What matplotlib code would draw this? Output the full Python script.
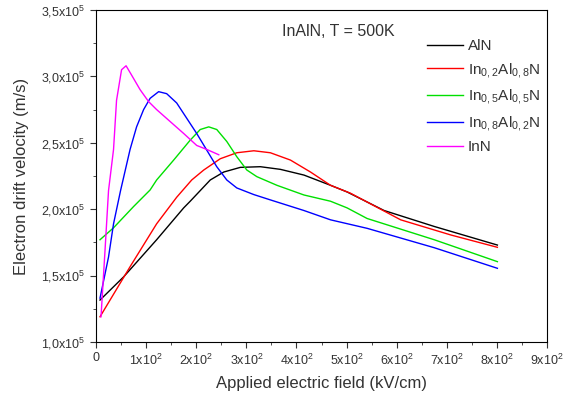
import matplotlib
matplotlib.use("Agg")
from matplotlib import pyplot as plt
from matplotlib.ticker import MultipleLocator, FuncFormatter

# values (field in kV/cm, velocity in 1e5 m/s)
aln_e = [8, 55, 121, 175, 188, 228, 255, 288, 328, 368, 415, 468, 501, 575, 675, 801]
aln_v = [1.316, 1.49, 1.77, 2.01, 2.06, 2.22, 2.28, 2.315, 2.32, 2.30, 2.257, 2.18, 2.13, 1.99, 1.87, 1.73]

in02_e = [8, 68, 121, 161, 191, 215, 248, 281, 315, 348, 388, 428, 468, 508, 608, 708, 801]
in02_v = [1.19, 1.567, 1.89, 2.09, 2.22, 2.295, 2.38, 2.425, 2.44, 2.425, 2.37, 2.28, 2.18, 2.12, 1.92, 1.806, 1.713]

in05_e = [8, 35, 75, 108, 121, 155, 188, 208, 225, 241, 261, 281, 301, 321, 361, 415, 468, 501, 541, 675, 801]
in05_v = [1.77, 1.86, 2.02, 2.145, 2.22, 2.37, 2.52, 2.60, 2.62, 2.60, 2.51, 2.395, 2.295, 2.245, 2.18, 2.107, 2.06, 2.01, 1.93, 1.77, 1.605]

in08_e = [8, 25, 35, 49, 68, 81, 95, 108, 125, 141, 161, 181, 201, 221, 241, 261, 281, 315, 348, 415, 468, 541, 675, 801]
in08_v = [1.33, 1.64, 1.89, 2.14, 2.45, 2.62, 2.75, 2.835, 2.885, 2.87, 2.80, 2.685, 2.57, 2.445, 2.32, 2.22, 2.16, 2.11, 2.07, 1.99, 1.92, 1.856, 1.71, 1.555]

inn_e = [10, 18, 25, 35, 41, 51, 60, 71, 88, 105, 121, 148, 175, 201, 221, 245]
inn_v = [1.19, 1.69, 2.14, 2.45, 2.82, 3.05, 3.08, 3.01, 2.90, 2.81, 2.75, 2.66, 2.57, 2.48, 2.45, 2.41]

series = [
    ("AlN", aln_e, aln_v, "black"),
    (r"In$_{0,2}$Al$_{0,8}$N", in02_e, in02_v, "red"),
    (r"In$_{0,5}$Al$_{0,5}$N", in05_e, in05_v, "#00e000"),
    (r"In$_{0,8}$Al$_{0,2}$N", in08_e, in08_v, "blue"),
    ("InN", inn_e, inn_v, "magenta"),
]

plt.rcParams['font.family'] = ['Liberation Sans', 'DejaVu Sans']
plt.rcParams['mathtext.fontset'] = 'custom'
plt.rcParams['mathtext.rm'] = 'Liberation Sans'
plt.rcParams['mathtext.it'] = 'Liberation Sans'

fig = plt.figure(figsize=(5.75, 4), dpi=100)
ax = fig.add_axes([96/575, 58/400, 451/575, 332/400])

for name, e, v, c in series:
    ax.plot(e, [x * 1e5 for x in v], color=c, lw=1, label=name)

ax.set_xlim(0, 900)
ax.set_ylim(1.0e5, 3.5e5)
ax.xaxis.set_major_locator(MultipleLocator(100))
ax.xaxis.set_minor_locator(MultipleLocator(50))
ax.yaxis.set_major_locator(MultipleLocator(0.5e5))
ax.yaxis.set_minor_locator(MultipleLocator(0.25e5))

def xfmt(x, pos):
    if x == 0:
        return "0"
    return r"%dx10$^2$" % round(x / 100)

def yfmt(y, pos):
    return (r"%.1fx10$^5$" % (y / 1e5)).replace(".", ",")

ax.xaxis.set_major_formatter(FuncFormatter(xfmt))
ax.yaxis.set_major_formatter(FuncFormatter(yfmt))
ax.tick_params(which='both', direction='out', labelsize=9, color='#333333', labelcolor='#333333')
ax.tick_params(which='major', length=4)
ax.tick_params(which='minor', length=2.5)

ax.set_xlabel("Applied electric field (kV/cm)", fontsize=12, color='#333333', labelpad=6)
ax.set_ylabel("Electron drift velocity (m/s)", fontsize=12, color='#333333', labelpad=9)

ax.text(0.412, 0.958, "InAlN, T = 500K", transform=ax.transAxes, fontsize=11.5,
        color='#333333', va='top')

leg = ax.legend(loc='upper left', bbox_to_anchor=(0.734, 0.913), frameon=False, fontsize=11,
                handlelength=2.35, handletextpad=0.33, labelspacing=0.5,
                borderpad=0, borderaxespad=0)
for t in leg.get_texts():
    t.set_color('#333333')

fig.savefig("out.png", dpi=100)
